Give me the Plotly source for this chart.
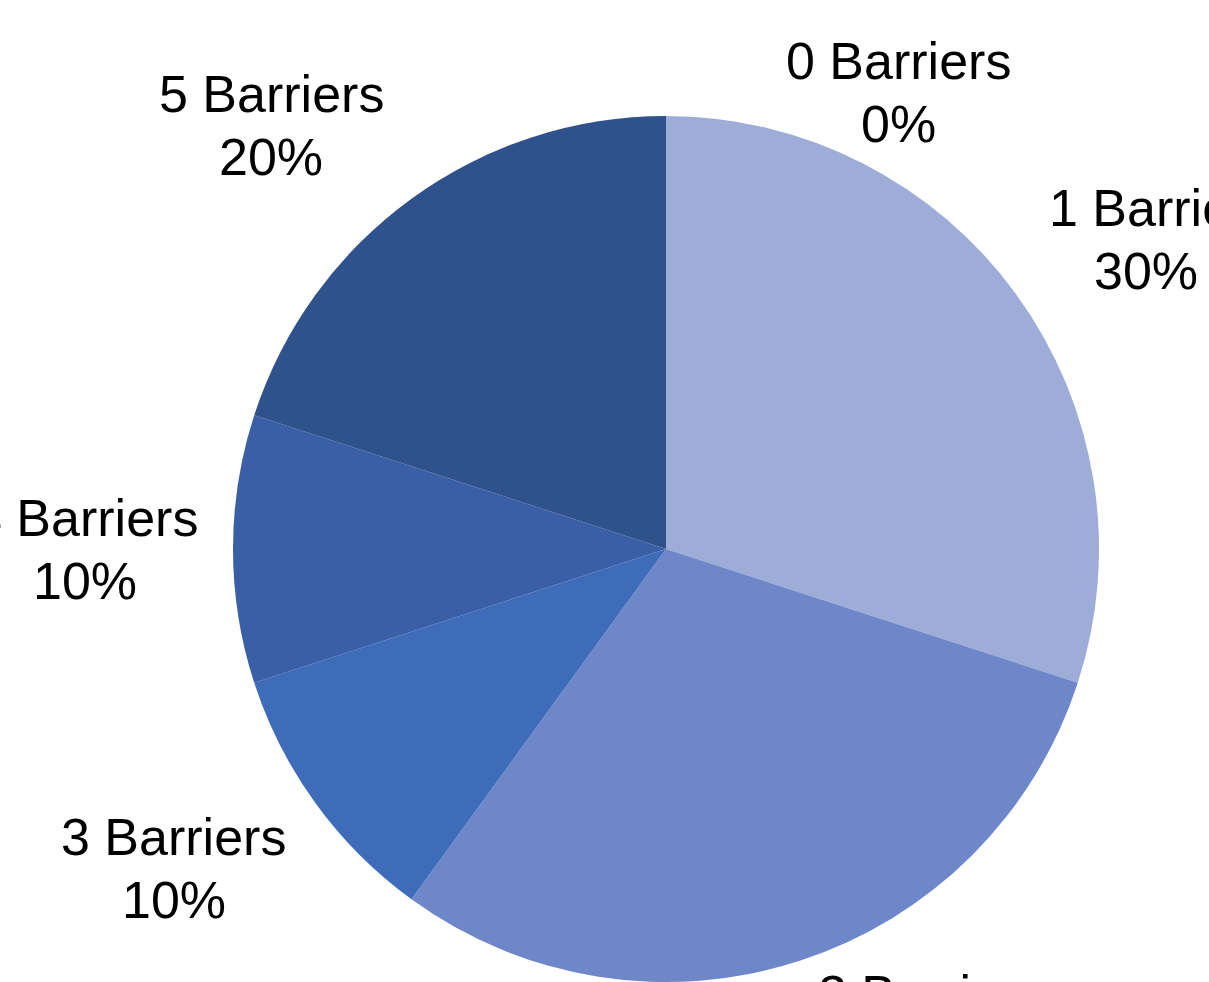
import math
import plotly.graph_objects as go

# ---- data ----
categories = ["0 Barriers", "1 Barriers", "2 Barriers", "3 Barriers", "4 Barriers", "5 Barriers"]
values = [0, 30, 30, 10, 10, 20]
percent_labels = ["0%", "30%", "30%", "10%", "10%", "20%"]

# ---- style ----
colors = ["#BFCBE6", "#9DADD7", "#6D87C9", "#3F6CB9", "#3A5FA6", "#30528C"]
W, H = 1209, 982
CX, CY, R = 666, 549, 433          # pie centre / radius in pixels
FONT = "Liberation Sans, Arial, sans-serif"
FS = 52
LINE_GAP = 63
# label placement tweaks (degrees added to slice mid-angle, distance in px)
angle_shift = [27, 4, -11, 3, 0, -7]
label_dist = [512, 584, 545, 587, 581, 579]
pct_x_shift = [0, -15, 0, 0, 0, 0]

fig = go.Figure(go.Pie(
    labels=categories,
    values=values,
    sort=False,
    direction="clockwise",
    rotation=0,
    marker=dict(colors=colors, line=dict(width=0)),
    textinfo="none",
    hoverinfo="label+percent",
    showlegend=False,
    domain=dict(x=[(CX - R) / W, (CX + R) / W], y=[1 - (CY + R) / H, 1 - (CY - R) / H]),
))

total = sum(values)
annotations = []
cum = 0
for i, (name, v) in enumerate(zip(categories, values)):
    mid = (cum + v / 2) / total * 360 + angle_shift[i]
    cum += v
    a = math.radians(mid)
    px = CX + label_dist[i] * math.sin(a)
    py = CY - label_dist[i] * math.cos(a)
    for txt, off, dx in ((name, -LINE_GAP / 2, 0), (percent_labels[i], LINE_GAP / 2, pct_x_shift[i])):
        annotations.append(dict(
            x=(px + dx) / W, y=1 - (py + off) / H, xref="paper", yref="paper",
            text=txt, showarrow=False, xanchor="center", yanchor="middle",
            font=dict(family=FONT, size=FS, color="#000000"),
        ))

fig.update_layout(
    width=W, height=H,
    margin=dict(l=0, r=0, t=0, b=0),
    paper_bgcolor="white", plot_bgcolor="white",
    annotations=annotations,
)

fig.write_html("out.html")
